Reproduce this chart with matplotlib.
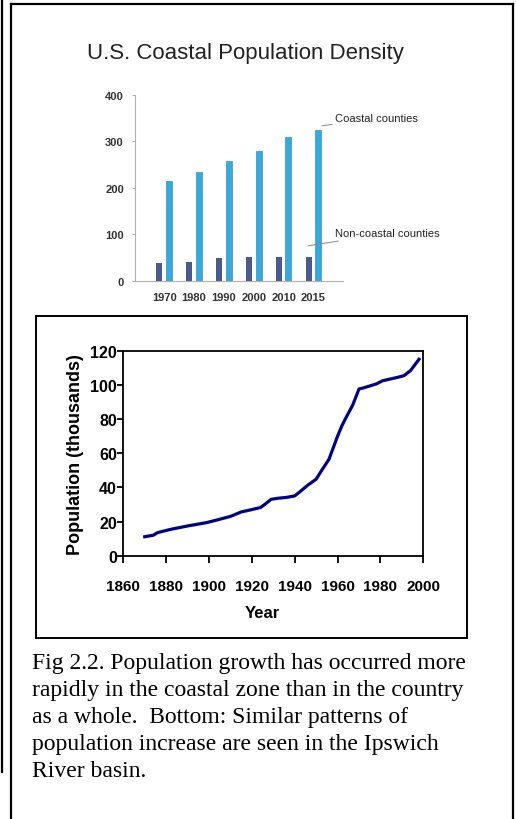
import matplotlib
matplotlib.use("Agg")
import matplotlib.pyplot as plt
from matplotlib.lines import Line2D
from matplotlib.patches import Rectangle

# top chart data
years = ["1970", "1980", "1990", "2000", "2010", "2015"]
coastal = [215, 234, 258, 278, 310, 325]
non_coastal = [37, 41, 49, 50, 51, 52]

# bottom chart data (Ipswich River basin)
pop_years = [1870, 1874, 1876, 1882, 1890, 1899, 1904, 1910, 1915, 1920, 1924,
             1926, 1929, 1932, 1936, 1940, 1942, 1946, 1950, 1952, 1956, 1960,
             1962, 1964, 1967, 1970, 1972, 1978, 1981, 1988, 1991, 1994, 1998]
pop_thousands = [11.1, 12.0, 13.5, 15.4, 17.4, 19.4, 21.0, 23.0, 25.6, 27.0, 28.2,
                 30.0, 33.0, 33.6, 34.1, 35.0, 37.0, 41.2, 44.8, 48.8, 56.5, 70.0,
                 76.0, 81.0, 88.0, 97.6, 98.2, 100.5, 102.4, 104.4, 105.4, 108.3, 115.0]

caption_lines = ["Fig 2.2. Population growth has occurred more",
                 "rapidly in the coastal zone than in the country",
                 "as a whole.  Bottom: Similar patterns of",
                 "population increase are seen in the Ipswich",
                 "River basin."]

W, H = 516, 820
fig = plt.figure(figsize=(W / 100, H / 100), dpi=100)


def fx(px):
    return px / W


def fy(py):
    return 1 - py / H


# page frame lines
for xs, ys in [((1.5, 1.5), (0, 773)), ((11, 11), (5, 820)),
               ((11, 513), (5, 5)), ((513, 513), (5, 820))]:
    fig.add_artist(Line2D([fx(x) for x in xs], [fy(y) for y in ys],
                          transform=fig.transFigure, color="black", lw=1.6))

# ---- top: bar chart ----
fig.text(fx(245), fy(54), "U.S. Coastal Population Density", ha="center", va="center",
         fontsize=16, family="Liberation Sans", color="#222222")

ax1 = fig.add_axes([fx(135), fy(281.7), fx(343) - fx(135), (281.7 - 95.7) / H])
pos = list(range(len(years)))
ax1.bar([p - 0.16 for p in pos], non_coastal, width=0.2, color="#4b5a8e")
ax1.bar([p + 0.16 for p in pos], coastal, width=0.2, color="#37a9dc",
        edgecolor="#2f95c4", linewidth=0.5)
ax1.set_xlim(-0.98, 5.99)
ax1.set_ylim(0, 400)
ax1.set_yticks([0, 100, 200, 300, 400])
ax1.set_xticks(pos)
ax1.set_xticklabels(years)
for s in ["top", "right"]:
    ax1.spines[s].set_visible(False)
for s in ["left", "bottom"]:
    ax1.spines[s].set_color("#b0b0b0")
    ax1.spines[s].set_linewidth(0.8)
ax1.tick_params(axis="y", length=2, color="#b0b0b0", pad=6, labelsize=8)
ax1.tick_params(axis="x", length=0, pad=8, labelsize=8)
for lab in ax1.get_xticklabels() + ax1.get_yticklabels():
    lab.set_fontweight("bold")
    lab.set_color("#333333")
    lab.set_family("Liberation Sans")

ax1.annotate("Coastal counties", xy=(5.28, 333), xytext=(5.72, 350),
             fontsize=8, family="Liberation Sans", color="#222222", va="center",
             arrowprops=dict(arrowstyle="-", color="#888888", lw=0.7,
                             shrinkA=0, shrinkB=0),
             annotation_clip=False)
ax1.annotate("Non-coastal counties", xy=(4.82, 75), xytext=(5.72, 102),
             fontsize=8, family="Liberation Sans", color="#222222", va="center",
             arrowprops=dict(arrowstyle="-", color="#888888", lw=0.7,
                             shrinkA=0, shrinkB=0),
             annotation_clip=False)

# ---- bottom: line chart ----
fig.add_artist(Rectangle((fx(35.7), fy(639)), fx(466.7) - fx(35.7), (639 - 316.7) / H,
                         transform=fig.transFigure, fill=False, ec="black", lw=1.4))

ax2 = fig.add_axes([fx(123.3), fy(556.7), fx(423.3) - fx(123.3), (556.7 - 351.7) / H])
ax2.plot(pop_years, pop_thousands, color="#000080", lw=2.3)
ax2.set_xlim(1860, 2000)
ax2.set_ylim(0, 120)
ax2.set_xticks(range(1860, 2001, 20))
ax2.set_yticks(range(0, 121, 20))
for s in ax2.spines.values():
    s.set_linewidth(1.3)
ax2.tick_params(axis="y", length=4, width=1.3, pad=0.5, labelsize=11.5)
ax2.tick_params(axis="x", length=5, width=1.3, pad=12, labelsize=11)
for lab in ax2.get_xticklabels() + ax2.get_yticklabels():
    lab.set_fontweight("bold")
    lab.set_family("Liberation Sans")
ax2.set_ylabel("Population (thousands)", fontsize=13, fontweight="bold",
               family="Liberation Sans")
ax2.yaxis.set_label_coords(-0.13, 0.5)
ax2.set_xlabel("Year", fontsize=12, fontweight="bold", family="Liberation Sans")
ax2.xaxis.set_label_coords((262.5 - 123.3) / 300, -0.24)

# caption, one text per line
for i, line in enumerate(caption_lines):
    fig.text(fx(31.7), fy(669 + i * 26.9), line, ha="left", va="baseline",
             fontsize=17, family="Liberation Serif")

fig.savefig("out.png", dpi=100)
